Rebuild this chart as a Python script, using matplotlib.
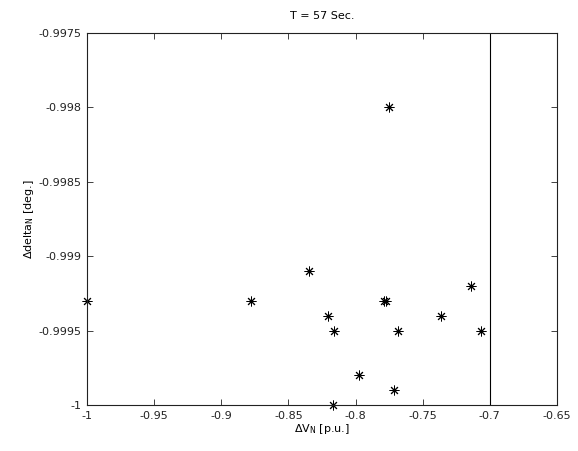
import matplotlib
matplotlib.use("Agg")
import matplotlib.pyplot as plt

# datos (T = 57 s)
dv_n = [-1.0, -0.878, -0.835, -0.8205, -0.816, -0.817, -0.7975,
        -0.779, -0.777, -0.775, -0.7712, -0.7683, -0.7364, -0.714, -0.7068]
ddelta_n = [-0.9993, -0.9993, -0.9991, -0.9994, -0.9995, -1.0, -0.9998,
            -0.9993, -0.9993, -0.998, -0.9999, -0.9995, -0.9994, -0.9992, -0.9995]
x_limite = -0.7

x_ticks = [-1, -0.95, -0.9, -0.85, -0.8, -0.75, -0.7, -0.65]
x_labels = ["-1", "-0.95", "-0.9", "-0.85", "-0.8", "-0.75", "-0.7", "-0.65"]
y_ticks = [-1, -0.9995, -0.999, -0.9985, -0.998, -0.9975]
y_labels = ["-1", "-0.9995", "-0.999", "-0.9985", "-0.998", "-0.9975"]

plt.rcParams.update({"font.family": ["DejaVu Sans"], "font.size": 8,
                     "mathtext.fontset": "dejavusans"})

fig = plt.figure(figsize=(5.78, 4.51), dpi=100)
ax = fig.add_axes([0.1505, 0.102, 0.813, 0.8248])

ax.plot(dv_n, ddelta_n, linestyle="none", marker=(8, 2, 0),
        markersize=7, color="black", markeredgewidth=0.7, clip_on=False)
ax.axvline(x_limite, color="black", linewidth=0.8)

ax.set_xlim(-1, -0.65)
ax.set_ylim(-1, -0.9975)
ax.set_xticks(x_ticks)
ax.set_xticklabels(x_labels)
ax.set_yticks(y_ticks)
ax.set_yticklabels(y_labels)
ax.tick_params(direction="in", top=True, right=True, length=4, width=0.6,
               labelsize=8, pad=4, colors="#222222")
for s in ax.spines.values():
    s.set_linewidth(0.8)
    s.set_color("#222222")

ax.set_title("T = 57 Sec.", fontsize=8, pad=10)
ax.set_xlabel(r"$\Delta$V$_{\mathregular{N}}$ [p.u.]", fontsize=8, labelpad=1)
ax.set_ylabel(r"$\Delta$delta$_{\mathregular{N}}$ [deg.]", fontsize=8, labelpad=2)

fig.savefig("out.png", dpi=100)
